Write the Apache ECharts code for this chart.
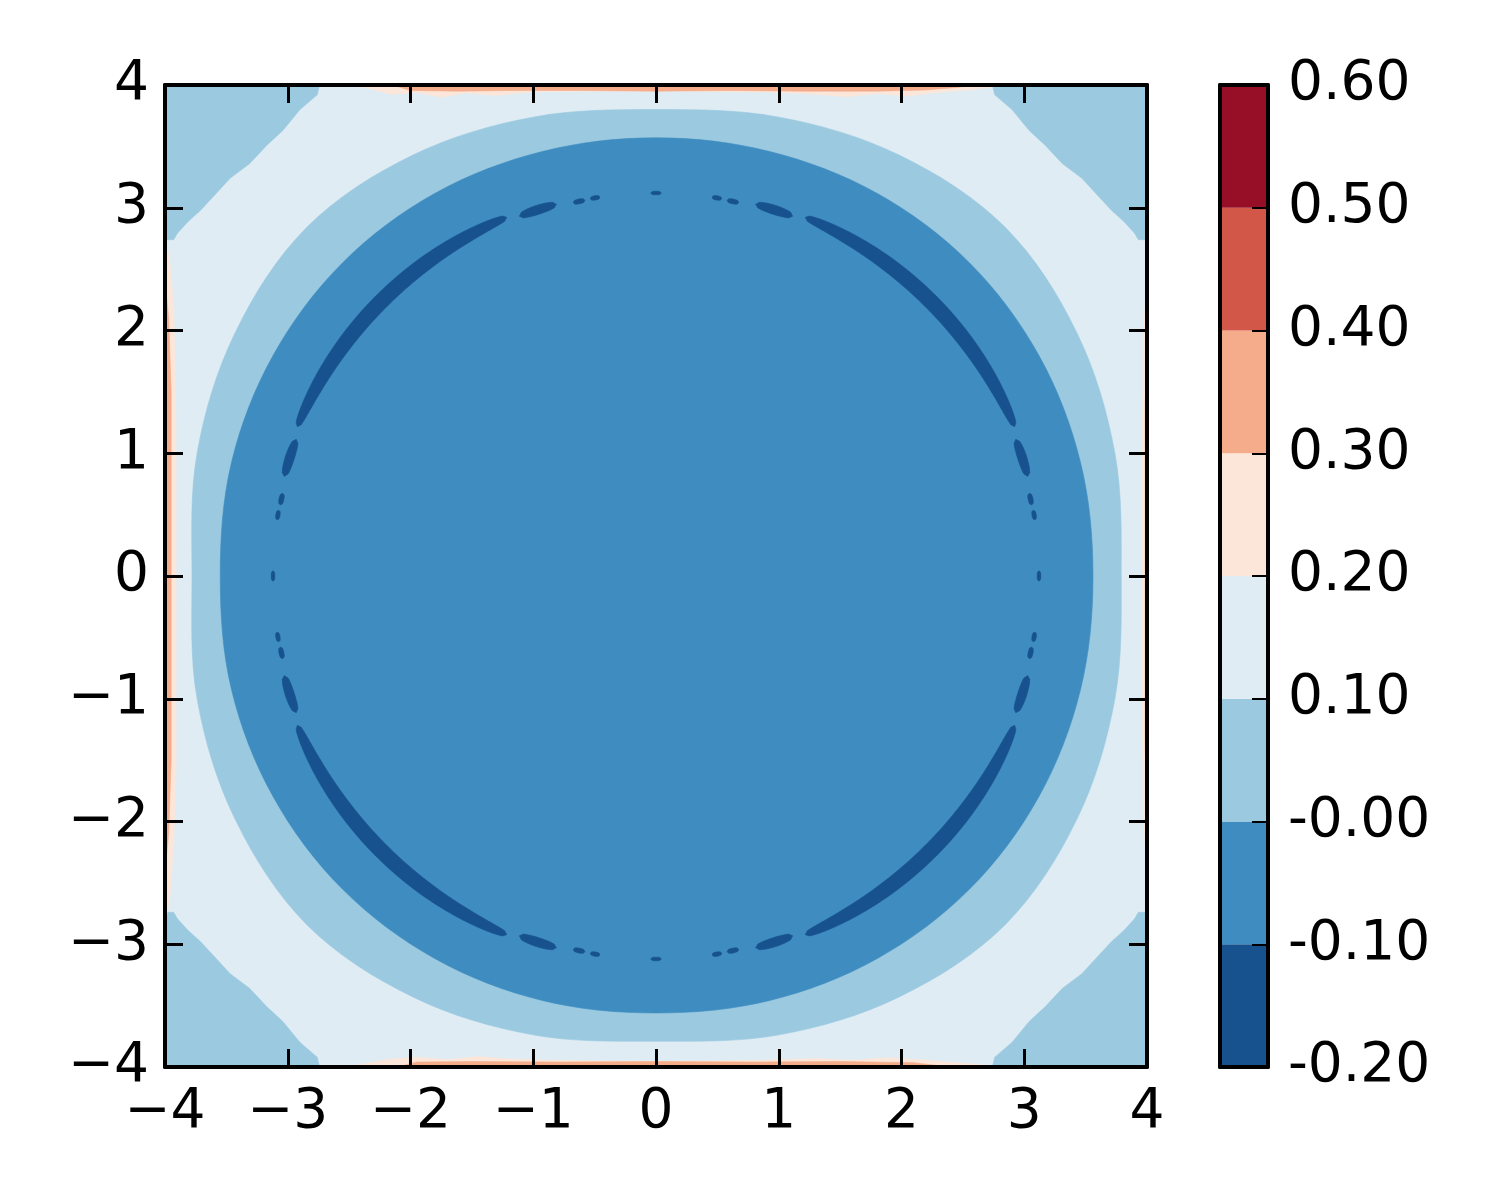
<!DOCTYPE html>
<html>
<head>
<meta charset="utf-8">
<script src="https://cdn.jsdelivr.net/npm/echarts/dist/echarts.min.js"></script>
<style>
html,body{margin:0;padding:0;background:#fff;}
#chart{width:1500px;height:1200px;}
</style>
</head>
<body>
<div id="chart"></div>
<script>
// ---- contour levels and colours (RdBu_r, 8 bands) ----
const levels = [-0.2, -0.1, 0, 0.1, 0.2, 0.3, 0.4, 0.5, 0.6];
const bandColors = ['#17528f', '#3f8dc0', '#9ac9e0', '#dfecf3', '#fbe6d9', '#f5ac8b', '#d25749', '#960f26'];

// ---- contour lines, polar form (degrees, radius) ----
const contourAngles = [0, 15, 30, 45, 60, 75, 90, 105, 120, 135, 150, 165, 180, 195, 210, 225, 240, 255, 270, 285, 300, 315, 330, 345];
const zeroContourR  = [3.56, 3.58, 3.60, 3.61, 3.60, 3.58, 3.57, 3.58, 3.60, 3.61, 3.60, 3.58, 3.55, 3.58, 3.60, 3.61, 3.60, 3.58, 3.56, 3.58, 3.60, 3.61, 3.60, 3.58];
const tenthContourR = [3.79, 3.87, 3.96, 4.02, 3.96, 3.87, 3.80, 3.87, 3.96, 4.02, 3.96, 3.87, 3.78, 3.87, 3.96, 4.02, 3.96, 3.87, 3.79, 3.87, 3.96, 4.02, 3.96, 3.87];

// corner region where the field falls back below 0.1 (top-left corner outline, x,y)
const cornerOutline = [[-4, 4], [-2.74, 4], [-2.76, 3.92], [-2.90, 3.80], [-3.04, 3.63], [-3.17, 3.51], [-3.31, 3.36],
  [-3.47, 3.24], [-3.58, 3.12], [-3.71, 2.98], [-3.82, 2.88], [-3.90, 2.79], [-3.93, 2.74], [-4, 2.74]];

// thin strips along the frame above 0.2 / 0.3: [position along edge, depth from edge]
const topPeach = [[-2.55, 0], [-2.35, 0.025], [-2.15, 0.075], [-1.95, 0.06], [-1.75, 0.1], [-1.55, 0.065], [-1.3, 0.085], [-1.0, 0.055], [-0.6, 0.05], [-0.2, 0.05], [0.2, 0.05], [0.6, 0.055], [1.0, 0.06], [1.3, 0.075], [1.55, 0.095], [1.8, 0.07], [2.05, 0.09], [2.3, 0.06], [2.55, 0.04], [2.75, 0.015], [2.85, 0]];
const topOrange = [[-2.15, 0], [-2.0, 0.045], [-1.6, 0.05], [-1.2, 0.045], [-0.6, 0.045], [0, 0.05], [0.6, 0.045], [1.2, 0.05], [1.8, 0.05], [2.2, 0.04], [2.45, 0.02], [2.6, 0]];
const bottomPeach = [[-2.6, 0], [-2.4, 0.02], [-2.2, 0.06], [-1.95, 0.08], [-1.7, 0.06], [-1.45, 0.085], [-1.2, 0.065], [-0.9, 0.055], [-0.5, 0.05], [0, 0.045], [0.5, 0.05], [0.9, 0.055], [1.3, 0.07], [1.6, 0.055], [1.9, 0.075], [2.2, 0.055], [2.5, 0.03], [2.75, 0.01], [2.85, 0]];
const bottomOrange = [[-2.1, 0], [-1.95, 0.04], [-1.5, 0.045], [-0.8, 0.04], [0, 0.045], [0.8, 0.04], [1.5, 0.045], [2.1, 0.035], [2.4, 0]];
const leftPeach = [[-2.85, 0], [-2.6, 0.04], [-2.2, 0.07], [-1.6, 0.09], [-1.0, 0.09], [0, 0.09], [1.0, 0.09], [1.6, 0.085], [2.2, 0.07], [2.55, 0.04], [2.8, 0]];
const leftOrange = [[-2.4, 0], [-2.1, 0.03], [-1.5, 0.05], [0, 0.05], [1.5, 0.05], [2.1, 0.03], [2.4, 0]];
const rightPeach = [[-2.4, 0], [-2.0, 0.03], [-1.0, 0.035], [0, 0.035], [1.0, 0.035], [2.0, 0.03], [2.4, 0]];
const rightOrange = [[-1.8, 0], [-1.4, 0.015], [0, 0.015], [1.4, 0.015], [1.8, 0]];

// fragments of the dip below -0.1 near r ~ 3.1, per quadrant: [start deg, end deg, radius, thickness]
const ringPiecesQuadrant = [[-0.8, 0.8, 3.12, 0.03], [8.4, 9.9, 3.12, 0.035], [10.7, 12.5, 3.115, 0.04], [15.0, 20.8, 3.135, 0.075],
  [22.6, 67.4, 3.165, 0.125], [69.2, 75.0, 3.135, 0.075], [77.5, 79.3, 3.115, 0.04], [80.1, 81.6, 3.12, 0.035]];
const quadrantOffsets = [0, 90, 180, 270];

// ---- build shapes (data coordinates) ----
function polar(angles, radii) {
  return angles.map((a, i) => [radii[i] * Math.cos(a * Math.PI / 180), radii[i] * Math.sin(a * Math.PI / 180)]);
}
function strip(profile, edge) {
  return profile.map(([t, d]) => {
    if (edge === 'top') return [t, 4 - d];
    if (edge === 'bottom') return [t, -4 + d];
    if (edge === 'left') return [-4 + d, t];
    return [4 - d, t];
  });
}
function ringPiece([a0, a1, r, t]) {
  const n = Math.max(8, Math.round((a1 - a0) * 2));
  const outer = [], inner = [];
  for (let i = 0; i <= n; i++) {
    const s = i / n;
    const a = (a0 + (a1 - a0) * s) * Math.PI / 180;
    const w = t / 2 * Math.pow(Math.sin(Math.PI * s), 0.3);
    outer.push([(r + w) * Math.cos(a), (r + w) * Math.sin(a)]);
    inner.push([(r - w) * Math.cos(a), (r - w) * Math.sin(a)]);
  }
  return outer.concat(inner.reverse());
}

const shapes = [];
shapes.push({ band: 3, points: [[-4, -4], [4, -4], [4, 4], [-4, 4]] });
[[1, 1], [-1, 1], [1, -1], [-1, -1]].forEach(([sx, sy]) => {
  shapes.push({ band: 2, points: cornerOutline.map(([x, y]) => [x * sx, y * sy]) });
});
[[topPeach, 'top'], [bottomPeach, 'bottom'], [leftPeach, 'left'], [rightPeach, 'right']].forEach(([p, e]) => shapes.push({ band: 4, points: strip(p, e) }));
[[topOrange, 'top'], [bottomOrange, 'bottom'], [leftOrange, 'left'], [rightOrange, 'right']].forEach(([p, e]) => shapes.push({ band: 5, points: strip(p, e) }));
shapes.push({ band: 2, points: polar(contourAngles, tenthContourR), smooth: 0.34 });
shapes.push({ band: 1, points: polar(contourAngles, zeroContourR), smooth: 0.34 });
quadrantOffsets.forEach(off => ringPiecesQuadrant.forEach(p => shapes.push({ band: 0, points: ringPiece([p[0] + off, p[1] + off, p[2], p[3]]) })));

// ---- chart ----
const FONT = 'DejaVu Sans';
const minusFmt = v => (v < 0 ? '\u2212' + Math.abs(v) : String(v));
const cbFmt = v => (v <= 0 ? '-' : '') + Math.abs(v).toFixed(2);
const frameLine = { show: true, onZero: false, lineStyle: { color: '#000', width: 4 } };
const tickIn = { show: true, inside: true, length: 18, lineStyle: { color: '#000', width: 3 } };
const lbl = { color: '#000', fontSize: 55, fontFamily: FONT };

const chart = echarts.init(document.getElementById('chart'), null, { renderer: 'canvas' });
chart.setOption({
  animation: false,
  backgroundColor: '#fff',
  grid: [
    { left: 165, top: 85, width: 982, height: 982 },
    { left: 1220, top: 85, width: 48, height: 982 }
  ],
  xAxis: [
    { gridIndex: 0, type: 'value', min: -4, max: 4, interval: 1, position: 'bottom', z: 10,
      axisLine: frameLine, axisTick: tickIn, splitLine: { show: false },
      axisLabel: Object.assign({ margin: 18, formatter: minusFmt }, lbl) },
    { gridIndex: 0, type: 'value', min: -4, max: 4, interval: 1, position: 'top', z: 10,
      axisLine: frameLine, axisTick: tickIn, splitLine: { show: false }, axisLabel: { show: false } },
    { gridIndex: 1, type: 'value', min: 0, max: 1, position: 'bottom', z: 10,
      axisLine: frameLine, axisTick: { show: false }, splitLine: { show: false }, axisLabel: { show: false } },
    { gridIndex: 1, type: 'value', min: 0, max: 1, position: 'top', z: 10,
      axisLine: frameLine, axisTick: { show: false }, splitLine: { show: false }, axisLabel: { show: false } }
  ],
  yAxis: [
    { gridIndex: 0, type: 'value', min: -4, max: 4, interval: 1, position: 'left', z: 10,
      axisLine: frameLine, axisTick: tickIn, splitLine: { show: false },
      axisLabel: Object.assign({ margin: 16, formatter: minusFmt }, lbl) },
    { gridIndex: 0, type: 'value', min: -4, max: 4, interval: 1, position: 'right', z: 10,
      axisLine: frameLine, axisTick: tickIn, splitLine: { show: false }, axisLabel: { show: false } },
    { gridIndex: 1, type: 'value', min: -0.2, max: 0.6, interval: 0.1, position: 'left', z: 10,
      axisLine: frameLine, axisTick: { show: false }, splitLine: { show: false }, axisLabel: { show: false } },
    { gridIndex: 1, type: 'value', min: -0.2, max: 0.6, interval: 0.1, position: 'right', z: 10,
      axisLine: frameLine, axisTick: { show: true, inside: true, length: 16, lineStyle: { color: '#000', width: 2 } },
      splitLine: { show: false },
      axisLabel: Object.assign({ margin: 20, formatter: cbFmt }, lbl) }
  ],
  series: [
    {
      type: 'custom', xAxisIndex: 0, yAxisIndex: 0, clip: true, silent: true, z: 2,
      data: shapes.map(() => [0, 0]),
      renderItem: (params, api) => {
        const s = shapes[params.dataIndex];
        return {
          type: 'polygon',
          shape: { points: s.points.map(p => api.coord(p)), smooth: s.smooth || 0 },
          style: { fill: bandColors[s.band], stroke: bandColors[s.band], lineWidth: 0.6 }
        };
      }
    },
    {
      type: 'custom', xAxisIndex: 2, yAxisIndex: 2, silent: true, z: 2,
      data: bandColors.map((c, i) => [0.5, (levels[i] + levels[i + 1]) / 2]),
      renderItem: (params, api) => {
        const i = params.dataIndex;
        const p0 = api.coord([0, levels[i]]);
        const p1 = api.coord([1, levels[i + 1]]);
        return { type: 'rect', shape: { x: p0[0], y: p1[1], width: p1[0] - p0[0], height: p0[1] - p1[1] },
                 style: { fill: bandColors[i] } };
      }
    }
  ]
});
</script>
</body>
</html>
